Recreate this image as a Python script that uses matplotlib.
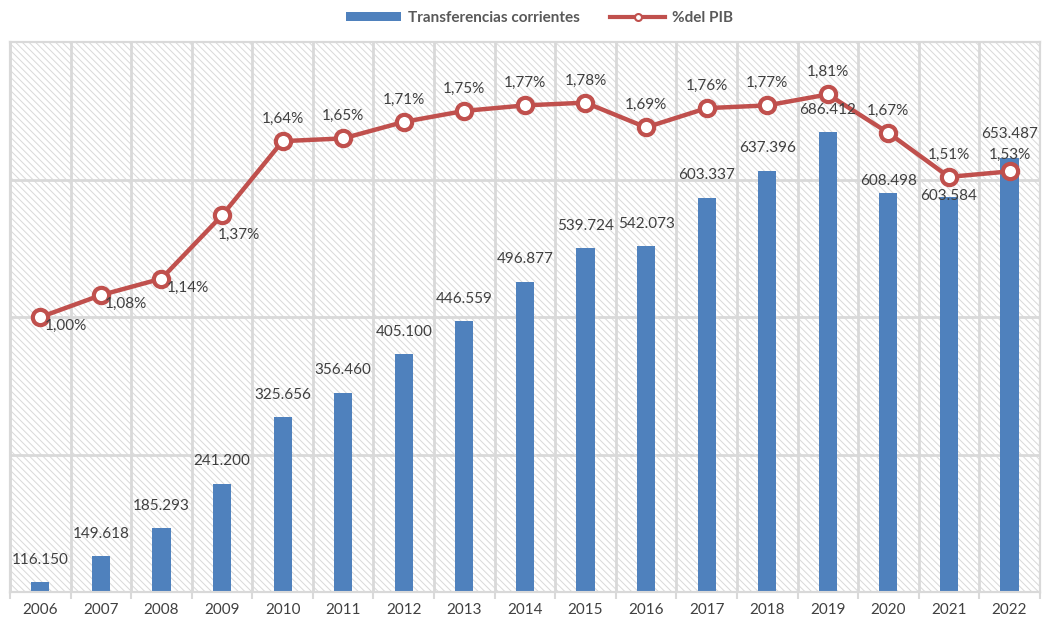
import matplotlib
matplotlib.use("Agg")
import matplotlib.pyplot as plt
from matplotlib.patches import Rectangle
from matplotlib.lines import Line2D
from matplotlib.patches import Patch

years = ["2006", "2007", "2008", "2009", "2010", "2011", "2012", "2013", "2014",
         "2015", "2016", "2017", "2018", "2019", "2020", "2021", "2022"]
transferencias = [116.150, 149.618, 185.293, 241.200, 325.656, 356.460, 405.100,
                  446.559, 496.877, 539.724, 542.073, 603.337, 637.396, 686.412,
                  608.498, 603.584, 653.487]
pct_pib = [1.00, 1.08, 1.14, 1.37, 1.64, 1.65, 1.71, 1.75, 1.77, 1.78, 1.69,
           1.76, 1.77, 1.81, 1.67, 1.51, 1.53]

plt.rcParams['font.family'] = ['Lato', 'DejaVu Sans']
plt.rcParams['hatch.linewidth'] = 0.7

BLUE = '#4f81bd'
RED = '#c0504d'
GRID = '#d9d9d9'
TXT = '#404040'

fig = plt.figure(figsize=(10.44, 6.2), dpi=100)
ax = fig.add_axes([0.0096, 0.045, 0.9864, 0.887])
ax2 = ax.twinx()

x = list(range(len(years)))
ax.set_xlim(-0.5, len(years) - 0.5)
ax.set_ylim(104, 800)
ax2.set_ylim(0, 2.0)

# hatched background
bg = Rectangle((0, 0), 1, 1, transform=ax.transAxes, facecolor='white',
               edgecolor='#d9d9d9', linewidth=0, hatch='\\\\\\\\\\', zorder=0)
ax.add_patch(bg)

# grid lines
for i in range(len(years) + 1):
    ax.axvline(i - 0.5, color=GRID, lw=2, zorder=1)
for v in [0.5, 1.0, 1.5]:
    ax.axhline(104 + v / 2.0 * (800 - 104), color=GRID, lw=2, zorder=1)

ax.bar(x, transferencias, width=0.3, color=BLUE, zorder=3)

ax2.plot(x, pct_pib, color=RED, lw=3.2, marker='o', markersize=11,
         markerfacecolor='white', markeredgecolor=RED, markeredgewidth=3, zorder=5)

# bar labels (drawn on top axes so they sit above everything)
for xi, v in zip(x, transferencias):
    lab = f"{v:.3f}"
    dy = 16
    if years[xi] == "2020":
        dy = 9
    elif years[xi] == "2021":
        dy = 1
    elif years[xi] == "2022":
        dy = 17
    ax2.annotate(lab, (xi, v), xycoords=ax.transData, xytext=(0, dy),
                 textcoords='offset points', ha='center', va='center',
                 fontsize=11, color=TXT, zorder=7)

for xi, v in zip(x, pct_pib):
    lab = f"{v:.2f}%".replace('.', ',')
    y = years[xi]
    if y in ("2006", "2007"):
        ax2.annotate(lab, (xi, v), xytext=(3, -6), textcoords='offset points',
                     ha='left', va='center', fontsize=11, color=TXT, zorder=7)
    elif y == "2008":
        ax2.annotate(lab, (xi, v), xytext=(4, -7), textcoords='offset points',
                     ha='left', va='center', fontsize=11, color=TXT, zorder=7)
    elif y == "2009":
        ax2.annotate(lab, (xi, v), xytext=(-3, -14), textcoords='offset points',
                     ha='left', va='center', fontsize=11, color=TXT, zorder=7)
    else:
        dy = 12 if y == "2022" else 16
        ax2.annotate(lab, (xi, v), xytext=(0, dy), textcoords='offset points',
                     ha='center', va='center', fontsize=11, color=TXT, zorder=7)

for a in (ax, ax2):
    for s in a.spines.values():
        s.set_color(GRID)
        s.set_linewidth(1.5)
ax2.set_yticks([])
ax.set_yticks([])
ax.set_xticks(x)
ax.set_xticklabels(years, fontsize=11, color=TXT)
ax.tick_params(axis='x', length=0, pad=8)
ax.set_xticks([i - 0.5 for i in range(len(years) + 1)], minor=True)
ax.tick_params(axis='x', which='minor', length=5, color=GRID, width=1.5)
ax2.patch.set_visible(False)

handles = [Patch(facecolor=BLUE, edgecolor='none'),
           Line2D([0], [0], color=RED, lw=3, marker='o', markersize=5,
                  markerfacecolor='white', markeredgecolor=RED, markeredgewidth=1.5)]
leg = fig.legend(handles, ["Transferencias corrientes", "%del PIB"], loc='center',
                 bbox_to_anchor=(0.517, 0.971), ncol=2, frameon=False,
                 handlelength=3.6, handleheight=0.5, handletextpad=0.45,
                 columnspacing=2.0, prop={'weight': 'bold', 'size': 11})
for t in leg.get_texts():
    t.set_color('#595959')

fig.savefig("out.png", dpi=100)
